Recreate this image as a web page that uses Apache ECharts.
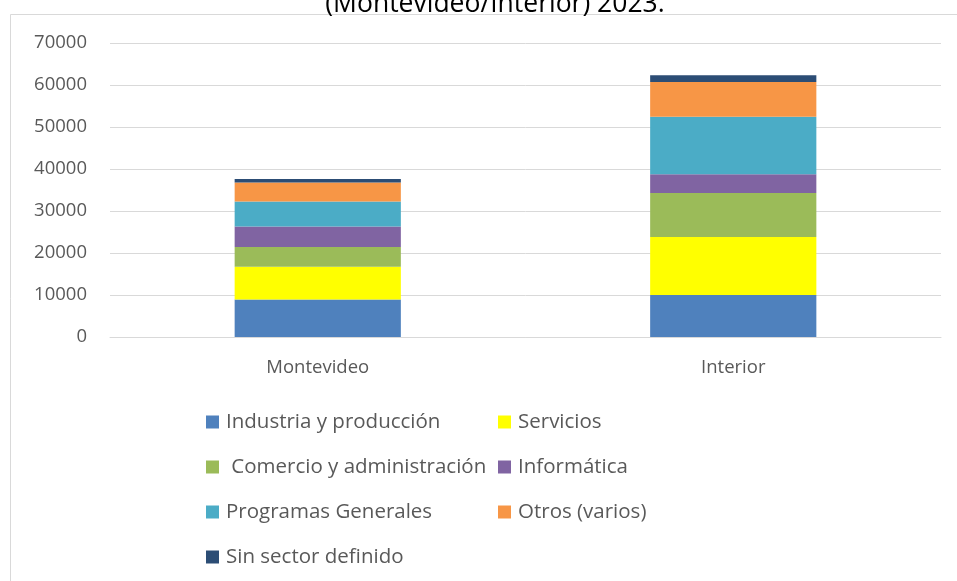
<!DOCTYPE html>
<html>
<head>
<meta charset="utf-8">
<script src="https://cdn.jsdelivr.net/npm/echarts@6/dist/echarts.min.js"></script>
<style>
  html, body { margin: 0; padding: 0; background: #fff; }
  #chart { width: 957px; height: 581px; }
</style>
</head>
<body>
<div id="chart"></div>
<script>
const regiones = ['Montevideo', 'Interior']
const sectores = [
    'Industria y producción',
    'Servicios',
    ' Comercio y administración',
    'Informática',
    'Programas Generales',
    'Otros (varios)',
    'Sin sector definido'
]
const colores = ['#4f81bd', '#ffff00', '#9bbb59', '#8064a2', '#4bacc6', '#f79646', '#2c4d75']

// values per sector: [Montevideo, Interior]
const industria = [8900, 10000]
const servicios = [7800, 13800]
const comercio = [4750, 10500]
const informatica = [4850, 4450]
const programas = [5950, 13700]
const otros = [4550, 8250]
const sinSector = [800, 1650]

const valores = [industria, servicios, comercio, informatica, programas, otros, sinSector]
const yTicks = [0, 10000, 20000, 30000, 40000, 50000, 60000, 70000]

const FONT = '"Open Sans", sans-serif'
const GRIS = '#595959'

const chart = echarts.init(document.getElementById('chart'))

const legendText = { color: GRIS, fontSize: 20.5, fontFamily: FONT, lineHeight: 22, padding: [0, 0, 0, 2] }

chart.setOption({
    animation: false,
    title: {
        text: '(Montevideo/Interior) 2023.',
        left: 490,
        textAlign: 'center',
        top: -14,
        textStyle: { fontSize: 26.5, fontWeight: 'normal', color: '#000', fontFamily: FONT }
    },
    graphic: [{
        type: 'rect',
        shape: { x: 10.5, y: 14.5, width: 960, height: 580 },
        style: { fill: '#fff', stroke: '#d9d9d9', lineWidth: 1 },
        z: -1
    }],
    grid: { left: 110, right: 16, top: 43, bottom: 244 },
    legend: [
        {
            orient: 'vertical',
            left: 201,
            top: 406,
            itemWidth: 13,
            itemHeight: 13,
            itemGap: 23,
            icon: 'rect',
            textStyle: legendText,
            data: [sectores[0], sectores[2], sectores[4], sectores[6]]
        },
        {
            orient: 'vertical',
            left: 493,
            top: 406,
            itemWidth: 13,
            itemHeight: 13,
            itemGap: 23,
            icon: 'rect',
            textStyle: legendText,
            data: [sectores[1], sectores[3], sectores[5]]
        }
    ],
    xAxis: {
        type: 'category',
        data: regiones,
        axisLine: { lineStyle: { color: '#d9d9d9' } },
        axisTick: { show: false },
        axisLabel: { color: GRIS, fontSize: 18.5, fontFamily: FONT, margin: 21 }
    },
    yAxis: {
        type: 'value',
        min: yTicks[0],
        max: yTicks[yTicks.length - 1],
        interval: 10000,
        axisLabel: { color: GRIS, fontSize: 18.5, fontFamily: FONT, margin: 23, formatter: v => String(v) },
        splitLine: { lineStyle: { color: '#d9d9d9' } }
    },
    series: sectores.map((name, i) => ({
        name,
        type: 'bar',
        stack: 'total',
        barWidth: '40%',
        itemStyle: { color: colores[i] },
        data: valores[i]
    }))
})
</script>
</body>
</html>
